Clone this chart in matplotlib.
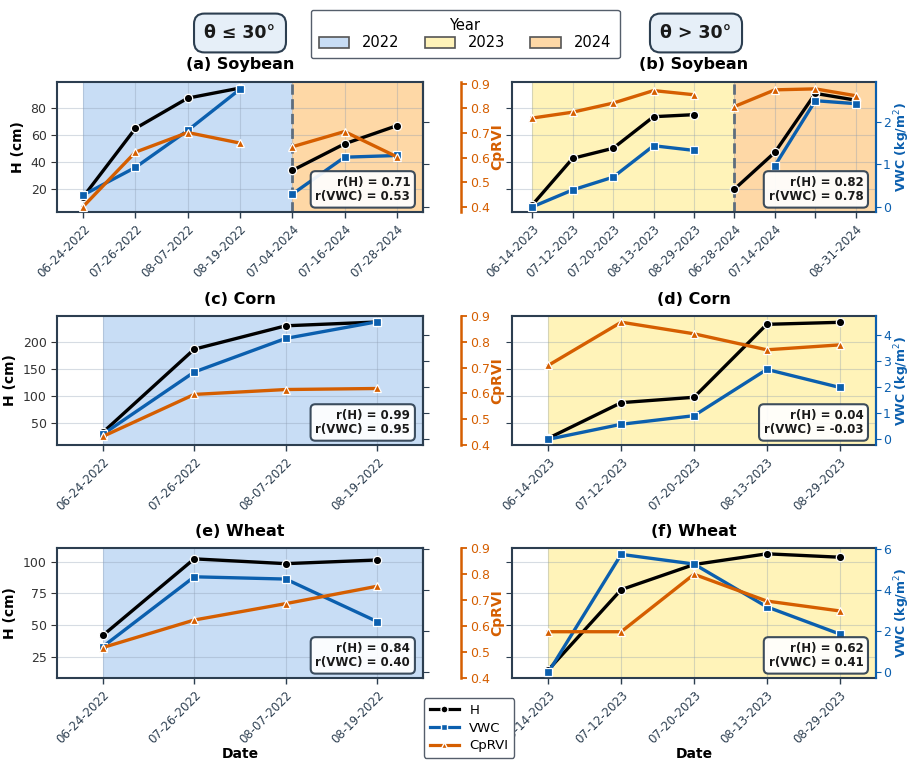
import matplotlib
matplotlib.use("Agg")
import matplotlib.pyplot as plt
import numpy as np
from matplotlib.patches import Patch
from matplotlib.lines import Line2D
from matplotlib.ticker import MultipleLocator

plt.rcParams['font.family'] = ['DejaVu Sans']

# ---------------- data ----------------
# (a) Soybean, theta <= 30
a_dates = ['06-24-2022', '07-26-2022', '08-07-2022', '08-19-2022',
           '07-04-2024', '07-16-2024', '07-28-2024']
a_years = [2022, 2022, 2022, 2022, 2024, 2024, 2024]
a_h = [14, 65, 87.5, 95, 33.7, 53.5, 67]
a_vwc = [0.28, 0.93, 1.8, 2.77, 0.30, 1.17, 1.21]
a_cprvi = [0.40, 0.622, 0.702, 0.659, 0.644, 0.706, 0.603]
a_r = (0.71, 0.53)

# (b) Soybean, theta > 30
b_dates = ['06-14-2023', '07-12-2023', '07-20-2023', '08-13-2023', '08-29-2023',
           '06-28-2024', '07-14-2024', '', '08-31-2024']
b_years = [2023, 2023, 2023, 2023, 2023, 2024, 2024, 2024, 2024]
b_h = [8, 42.7, 50.2, 73.7, 75.2, 19.8, 47.2, 91, 86]
b_vwc = [0.0, 0.40, 0.70, 1.44, 1.33, np.nan, 0.97, 2.50, 2.43]
b_cprvi = [0.761, 0.785, 0.822, 0.873, 0.856, 0.808, 0.876, 0.880, 0.852]
b_r = (0.82, 0.78)

# (c) Corn, theta <= 30
c_dates = ['06-24-2022', '07-26-2022', '08-07-2022', '08-19-2022']
c_years = [2022, 2022, 2022, 2022]
c_h = [33, 186, 229, 236]
c_vwc = [0.19, 2.58, 3.87, 4.51]
c_cprvi = [0.433, 0.596, 0.615, 0.619]
c_r = (0.99, 0.95)

# (d) Corn, theta > 30
d_dates = ['06-14-2023', '07-12-2023', '07-20-2023', '08-13-2023', '08-29-2023']
d_years = [2023, 2023, 2023, 2023, 2023]
d_h = [22.5, 87.8, 97.7, 231.7, 235.4]
d_vwc = [0.0, 0.575, 0.905, 2.68, 1.99]
d_cprvi = [0.709, 0.876, 0.831, 0.769, 0.788]
d_r = (0.04, -0.03)

# (e) Wheat, theta <= 30
e_dates = ['06-24-2022', '07-26-2022', '08-07-2022', '08-19-2022']
e_years = [2022, 2022, 2022, 2022]
e_h = [41.7, 102.4, 98.6, 101.5]
e_vwc = [1.24, 4.64, 4.53, 2.46]
e_cprvi = [0.517, 0.623, 0.686, 0.753]
e_r = (0.84, 0.40)

# (f) Wheat, theta > 30
f_dates = ['06-14-2023', '07-12-2023', '07-20-2023', '08-13-2023', '08-29-2023']
f_years = [2023, 2023, 2023, 2023, 2023]
f_h = [14.5, 78, 97.9, 106.4, 103.7]
f_vwc = [0.0, 5.73, 5.26, 3.18, 1.86]
f_cprvi = [0.578, 0.578, 0.799, 0.696, 0.658]
f_r = (0.62, 0.41)

year_labels = ['2022', '2023', '2024']
series_labels = ['H', 'VWC', 'CpRVI']

# ---------------- style ----------------
C_H = 'black'
C_VWC = '#0b5fae'
C_CP = '#d55e00'
DARK = '#2c3e50'
YEAR_COLORS = {2022: '#c8ddf5', 2023: '#fff3b9', 2024: '#fed8a6'}

# per-row axis limits: H, VWC, CpRVI
row_lims = [
    dict(h=(2.8, 99.5), hstep=20, v=(-0.12, 2.94), vstep=1, c=(0.378, 0.908)),
    dict(h=(10, 247), hstep=50, v=(-0.22, 4.73), vstep=1, c=(0.4, 0.9)),
    dict(h=(8, 111), hstep=25, v=(-0.28, 6.04), vstep=2, c=(0.4, 0.9)),
]

W, H = 911, 761
fig = plt.figure(figsize=(W / 100, H / 100), dpi=100)

col_x = [(57, 423), (512, 876)]
row_y = [(82, 212), (316, 445), (548, 678)]


def make_ax(r, c):
    x0, x1 = col_x[c]
    y0, y1 = row_y[r]
    return fig.add_axes([x0 / W, 1 - y1 / H, (x1 - x0) / W, (y1 - y0) / H])


def draw_panel(r, c, title, dates, years, h, vwc, cp, rvals, bottom):
    lims = row_lims[r]
    ax = make_ax(r, c)
    n = len(dates)
    x = np.arange(n)
    yrs = np.array(years)
    h = np.array(h, dtype=float)
    vwc = np.array(vwc, dtype=float)
    cp = np.array(cp, dtype=float)

    ax.set_xlim(-0.5, n - 0.5)
    uniq = sorted(set(years))
    for k, yr in enumerate(uniq):
        idx = np.where(yrs == yr)[0]
        start = idx[0]
        end = idx[-1] + 1 if k < len(uniq) - 1 else n - 0.5
        ax.axvspan(start, end, color=YEAR_COLORS[yr], lw=0, zorder=0)
        if k > 0:
            ax.axvline(start, color='#5d6d7e', ls='--', lw=2, zorder=2)

    ax.grid(True, color='#8a9bb0', alpha=0.35, lw=0.8)
    ax.set_ylim(*lims['h'])
    ax.yaxis.set_major_locator(MultipleLocator(lims['hstep']))

    axv = ax.twinx()
    axc = ax.twinx()
    axv.set_ylim(*lims['v'])
    axv.yaxis.set_major_locator(MultipleLocator(lims['vstep']))
    axc.set_ylim(*lims['c'])
    axc.set_yticks([0.4, 0.5, 0.6, 0.7, 0.8, 0.9])

    mk = dict(markersize=6, markeredgecolor='white', markeredgewidth=0.9, lw=2.4)
    for yr in uniq:
        idx = np.where(yrs == yr)[0]
        ax.plot(x[idx], h[idx], color=C_H, marker='o', zorder=3, **mk)
        axv.plot(x[idx], vwc[idx], color=C_VWC, marker='s', zorder=3, **mk)
        axc.plot(x[idx], cp[idx], color=C_CP, marker='^', zorder=3, **mk)

    ax.set_xticks(x)
    ax.set_xticklabels(dates, rotation=45, ha='right', rotation_mode='anchor',
                       fontsize=8.5, color=DARK)
    ax.tick_params(axis='x', length=4, color=DARK, width=1)
    ax.tick_params(axis='y', labelsize=9, colors='#333333', length=4)

    for sp in ax.spines.values():
        sp.set_color(DARK)
        sp.set_linewidth(1.5)
    for a in (axv, axc):
        for s in ('left', 'top', 'bottom'):
            a.spines[s].set_visible(False)

    if c == 0:
        ax.set_ylabel('H (cm)', fontsize=10, fontweight='bold', labelpad=4)
        axv.spines['right'].set_color(DARK)
        axv.spines['right'].set_linewidth(1.5)
        axv.tick_params(axis='y', labelright=False, color=DARK, length=4)
        axc.spines['right'].set_position(('outward', 27.4))
        axc.spines['right'].set_color(C_CP)
        axc.spines['right'].set_linewidth(1.8)
        axc.tick_params(axis='y', colors=C_CP, labelsize=9, length=4, width=1.3, pad=2.5)
        axc.set_ylabel('CpRVI', color=C_CP, fontsize=10, fontweight='bold', labelpad=0)
    else:
        ax.tick_params(axis='y', labelleft=False, color=DARK)
        axv.spines['right'].set_color(C_VWC)
        axv.spines['right'].set_linewidth(1.5)
        axv.tick_params(axis='y', colors=C_VWC, labelsize=9, length=3.5, pad=1.5)
        axv.set_ylabel('VWC (kg/m$^2$)', color=C_VWC, fontsize=9, fontweight='bold')
        axv.yaxis.set_label_coords(1.046, 0.5)
        axc.set_axis_off()

    if bottom:
        ax.set_xlabel('Date', fontsize=10, fontweight='bold', labelpad=1)

    ax.set_title(title, fontsize=11.5, fontweight='bold', pad=9)

    axc.text(0.965, 0.07, f"r(H) = {rvals[0]:.2f}\nr(VWC) = {rvals[1]:.2f}",
             transform=ax.transAxes, ha='right', va='bottom', fontsize=8.5,
             fontweight='bold', color='#1a1a1a', linespacing=1.1, zorder=10,
             bbox=dict(boxstyle='round,pad=0.4', fc='white', ec=DARK, lw=1.5, alpha=0.92))
    return ax


draw_panel(0, 0, '(a) Soybean', a_dates, a_years, a_h, a_vwc, a_cprvi, a_r, False)
draw_panel(0, 1, '(b) Soybean', b_dates, b_years, b_h, b_vwc, b_cprvi, b_r, False)
draw_panel(1, 0, '(c) Corn', c_dates, c_years, c_h, c_vwc, c_cprvi, c_r, False)
draw_panel(1, 1, '(d) Corn', d_dates, d_years, d_h, d_vwc, d_cprvi, d_r, False)
draw_panel(2, 0, '(e) Wheat', e_dates, e_years, e_h, e_vwc, e_cprvi, e_r, True)
draw_panel(2, 1, '(f) Wheat', f_dates, f_years, f_h, f_vwc, f_cprvi, f_r, True)

# column headers
hdr = dict(ha='center', va='center', fontsize=12.5, fontweight='bold', color='#1a1a1a',
           bbox=dict(boxstyle='round,pad=0.6', fc='#e6eff8', ec=DARK, lw=1.5))
fig.text(240 / W, 1 - 33 / H, 'θ ≤ 30°', **hdr)
fig.text(696 / W, 1 - 33 / H, 'θ > 30°', **hdr)

# year legend
year_handles = [Patch(facecolor=YEAR_COLORS[int(y)], edgecolor='#555555', lw=1.2)
                for y in year_labels]
leg1 = fig.legend(year_handles, year_labels, title='Year', loc='center',
                  bbox_to_anchor=(465 / W, 1 - 34 / H), ncol=3, fontsize=10.5,
                  title_fontsize=10.5, handlelength=2.1, handleheight=0.75,
                  handletextpad=0.9, columnspacing=1.7, borderpad=0.55,
                  labelspacing=0.2, fancybox=True, framealpha=1, edgecolor='#555e6b')
leg1.get_frame().set_linewidth(1.0)

# series legend
series_handles = [
    Line2D([], [], color=C_H, marker='o', lw=2.3, markersize=5, markeredgecolor='white'),
    Line2D([], [], color=C_VWC, marker='s', lw=2.3, markersize=5, markeredgecolor='white'),
    Line2D([], [], color=C_CP, marker='^', lw=2.3, markersize=5, markeredgecolor='white'),
]
leg2 = fig.legend(series_handles, series_labels, loc='center',
                  bbox_to_anchor=(469 / W, 1 - 728 / H), fontsize=9.5,
                  handlelength=2.2, handletextpad=0.8, borderpad=0.45,
                  labelspacing=0.35, fancybox=True, framealpha=1, edgecolor='#555e6b')
leg2.get_frame().set_linewidth(1.0)

fig.savefig('out.png', dpi=100)
